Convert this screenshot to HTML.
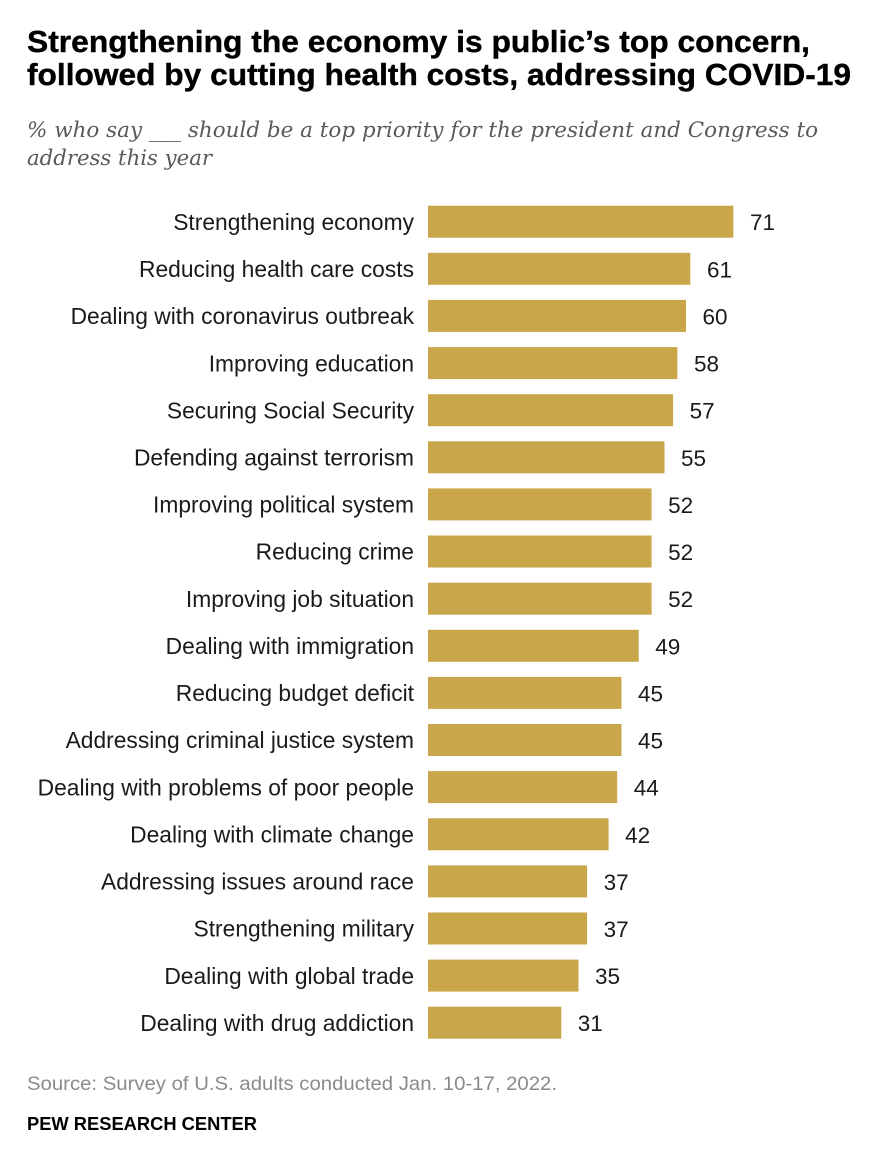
<!DOCTYPE html>
<html><head><meta charset="utf-8"><style>
html,body{margin:0;padding:0;background:#fff;}
svg{display:block;}
.t{font-family:"Liberation Sans",Arial,sans-serif;font-weight:bold;font-size:31px;fill:#000;stroke:#000;stroke-width:0.4px;}
.s{font-family:"DejaVu Serif","Liberation Serif",serif;font-style:italic;font-size:21.5px;fill:#595959;}
.l{font-family:"Liberation Sans",Arial,sans-serif;font-size:22.8px;fill:#1a1a1a;text-anchor:end;}
.v{font-family:"Liberation Sans",Arial,sans-serif;font-size:22.5px;fill:#1a1a1a;}
.src{font-family:"Liberation Sans",Arial,sans-serif;font-size:19px;fill:#8a8a8a;}
.pew{font-family:"Liberation Sans",Arial,sans-serif;font-weight:bold;font-size:18px;fill:#000;}
</style></head><body>
<svg width="880" height="1152" viewBox="0 0 880 1152" xmlns="http://www.w3.org/2000/svg">
<text class="t" x="27" y="52" textLength="783" lengthAdjust="spacingAndGlyphs">Strengthening the economy is public’s top concern,</text>
<text class="t" x="27" y="85" textLength="824" lengthAdjust="spacingAndGlyphs">followed by cutting health costs, addressing COVID-19</text>
<text class="s" x="27" y="137" textLength="791" lengthAdjust="spacingAndGlyphs">% who say ___ should be a top priority for the president and Congress to</text>
<text class="s" x="27" y="165" textLength="185" lengthAdjust="spacingAndGlyphs">address this year</text>
<g fill="#C9A64A">
<rect x="428" y="205.7" width="305.3" height="32"/>
<rect x="428" y="252.8" width="262.3" height="32"/>
<rect x="428" y="299.9" width="258" height="32"/>
<rect x="428" y="347.1" width="249.4" height="32"/>
<rect x="428" y="394.2" width="245.1" height="32"/>
<rect x="428" y="441.3" width="236.5" height="32"/>
<rect x="428" y="488.4" width="223.6" height="32"/>
<rect x="428" y="535.5" width="223.6" height="32"/>
<rect x="428" y="582.7" width="223.6" height="32"/>
<rect x="428" y="629.8" width="210.7" height="32"/>
<rect x="428" y="676.9" width="193.5" height="32"/>
<rect x="428" y="724.0" width="193.5" height="32"/>
<rect x="428" y="771.1" width="189.2" height="32"/>
<rect x="428" y="818.3" width="180.6" height="32"/>
<rect x="428" y="865.4" width="159.1" height="32"/>
<rect x="428" y="912.5" width="159.1" height="32"/>
<rect x="428" y="959.6" width="150.5" height="32"/>
<rect x="428" y="1006.7" width="133.3" height="32"/>
</g>
<g>
<text class="l" x="414" y="229.9">Strengthening economy</text>
<text class="l" x="414" y="277.0">Reducing health care costs</text>
<text class="l" x="414" y="324.1">Dealing with coronavirus outbreak</text>
<text class="l" x="414" y="371.3">Improving education</text>
<text class="l" x="414" y="418.4">Securing Social Security</text>
<text class="l" x="414" y="465.5">Defending against terrorism</text>
<text class="l" x="414" y="512.6">Improving political system</text>
<text class="l" x="414" y="559.7">Reducing crime</text>
<text class="l" x="414" y="606.9">Improving job situation</text>
<text class="l" x="414" y="654.0">Dealing with immigration</text>
<text class="l" x="414" y="701.1">Reducing budget deficit</text>
<text class="l" x="414" y="748.2">Addressing criminal justice system</text>
<text class="l" x="414" y="795.3">Dealing with problems of poor people</text>
<text class="l" x="414" y="842.5">Dealing with climate change</text>
<text class="l" x="414" y="889.6">Addressing issues around race</text>
<text class="l" x="414" y="936.7">Strengthening military</text>
<text class="l" x="414" y="983.8">Dealing with global trade</text>
<text class="l" x="414" y="1030.9">Dealing with drug addiction</text>
</g>
<g>
<text class="v" x="750" y="230.2">71</text>
<text class="v" x="707" y="277.3">61</text>
<text class="v" x="702.5" y="324.4">60</text>
<text class="v" x="694" y="371.6">58</text>
<text class="v" x="689.6" y="418.7">57</text>
<text class="v" x="681" y="465.8">55</text>
<text class="v" x="668.1" y="512.9">52</text>
<text class="v" x="668.1" y="560.0">52</text>
<text class="v" x="668.1" y="607.2">52</text>
<text class="v" x="655.2" y="654.3">49</text>
<text class="v" x="638" y="701.4">45</text>
<text class="v" x="638" y="748.5">45</text>
<text class="v" x="633.7" y="795.6">44</text>
<text class="v" x="625.1" y="842.8">42</text>
<text class="v" x="603.6" y="889.9">37</text>
<text class="v" x="603.6" y="937.0">37</text>
<text class="v" x="595" y="984.1">35</text>
<text class="v" x="577.8" y="1031.2">31</text>
</g>
<text class="src" x="27" y="1090" textLength="530" lengthAdjust="spacingAndGlyphs">Source: Survey of U.S. adults conducted Jan. 10-17, 2022.</text>
<text class="pew" x="27" y="1130" textLength="230" lengthAdjust="spacingAndGlyphs">PEW RESEARCH CENTER</text>
</svg>
</body></html>
